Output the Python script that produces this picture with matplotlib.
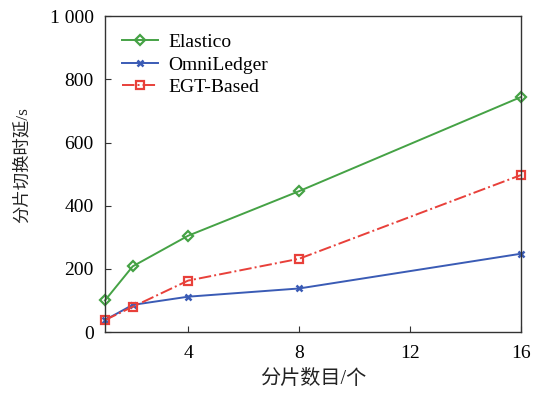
import numpy as np
import matplotlib.pyplot as plt

# shard count vs. shard switching delay
shards = [1, 2, 4, 8, 16]
elastico = [100, 208, 305, 446, 744]
omniledger = [38, 86, 112, 138, 248]
egt_based = [38, 80, 163, 232, 497]

x_ticks = [4, 8, 12, 16]
y_ticks = [0, 200, 400, 600, 800, 1000]
y_tick_labels = ['0', '200', '400', '600', '800', '1 000']

plt.rcParams['font.family'] = ['Liberation Serif', 'Noto Sans CJK SC']

fig = plt.figure(figsize=(5.41, 4.03), dpi=100)
ax = fig.add_axes([0.194, 0.176, 0.769, 0.784])

ax.plot(shards, elastico, color='#45a245', lw=1.4, marker='D', ms=5.5,
        mfc='none', mew=1.6, label='Elastico', clip_on=False)
ax.plot(shards, omniledger, color='#3a5bb5', lw=1.4, marker='x', ms=4.5,
        mew=1.8, label='OmniLedger', clip_on=False)
ax.plot(shards, egt_based, color='#e8403a', lw=1.4, ls='-.', marker='s', ms=5.5,
        mfc='none', mew=1.6, label='EGT-Based', clip_on=False)

ax.set_xlim(1, 16)
ax.set_ylim(0, 1000)
ax.set_xticks(x_ticks)
ax.set_yticks(y_ticks)
ax.set_yticklabels(y_tick_labels)
ax.tick_params(direction='in', labelsize=14, length=4, width=0.8, colors='#333333',
               labelcolor='black')
ax.tick_params(axis='x', pad=9)
ax.tick_params(axis='y', pad=8)
for s in ax.spines.values():
    s.set_color('#333333')
    s.set_linewidth(1.0)

ax.set_xlabel('分片数目/个', fontsize=14.5, labelpad=6, color='#222222')
ax.set_ylabel('分片切换时延/s', fontsize=12.5, color='#222222')
ax.yaxis.set_label_coords(-0.178, 0.53)

ax.legend(loc='upper left', frameon=False, fontsize=14, handlelength=1.85,
          handletextpad=0.5, labelspacing=0.25, borderaxespad=0.5)

fig.savefig('out.png', dpi=100)
